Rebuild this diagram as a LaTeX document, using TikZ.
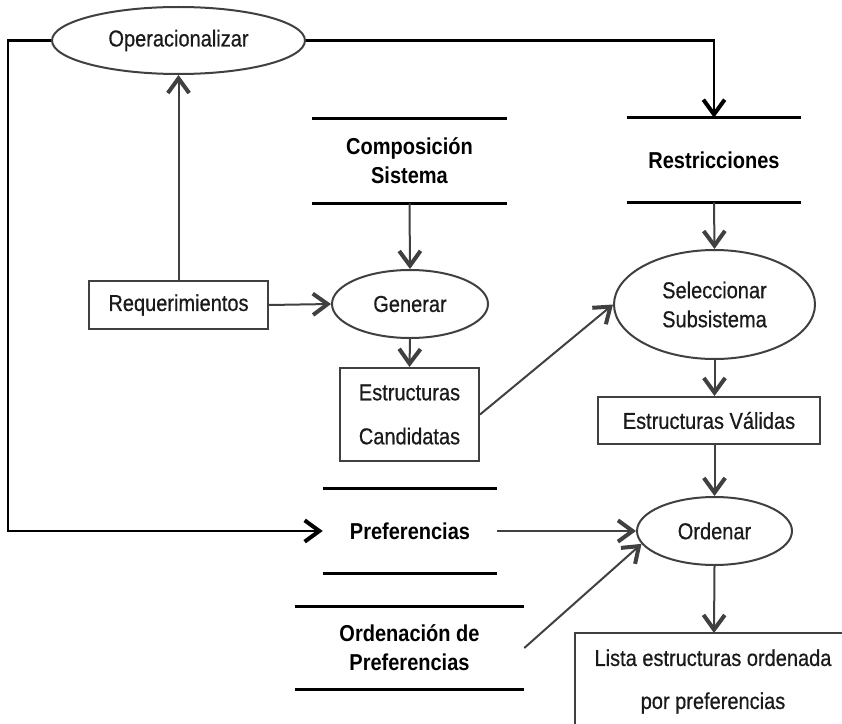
\documentclass[tikz,border=0pt]{standalone}
\usepackage{fontspec}
\setmainfont{Liberation Sans}[FakeStretch=0.87,UprightFeatures={FakeBold=0.6}]
\usetikzlibrary{arrows.meta,shapes.geometric}
\definecolor{lgray}{HTML}{404040}
\definecolor{tgray}{HTML}{1a1a1a}
\tikzset{
  tip/.style={-{Straight Barb[length=11pt,width=16pt,line width=3pt]}},
  gline/.style={draw=lgray,line width=1.5pt},
  bline/.style={draw=black,line width=2pt},
  proc/.style={ellipse,draw=lgray,line width=1.5pt,inner sep=0pt,text=tgray,align=center},
  ent/.style={rectangle,draw=lgray,line width=1.5pt,inner sep=0pt,text=tgray,align=center},
  store/.style={rectangle,draw=none,inner sep=0pt,align=center,font=\bfseries\fontsize{17.25}{21.75}\selectfont}
}
\begin{document}
\begin{tikzpicture}[x=0.75pt,y=-0.75pt,font=\fontsize{17.25}{21.75}\selectfont]
\useasboundingbox (0,0) rectangle (842,724);
% nodes
\node[proc,minimum width=253*0.75pt,minimum height=67*0.75pt] (oper) at (178.5,40.5) {Operacionalizar};
\node[store,minimum width=195*0.75pt,minimum height=84*0.75pt] (comp) at (409.5,161) {Composición\\Sistema};
\node[store,minimum width=174*0.75pt,minimum height=84*0.75pt] (restr) at (714,160) {Restricciones};
\node[ent,minimum width=179*0.75pt,minimum height=48*0.75pt] (req) at (178.5,305) {Requerimientos};
\node[proc,minimum width=156*0.75pt,minimum height=68*0.75pt] (gen) at (410,304) {Generar};
\node[proc,minimum width=201*0.75pt,minimum height=109*0.75pt] (selec) at (714.5,304.5) {Seleccionar\\Subsistema};
\node[ent,minimum width=139*0.75pt,minimum height=93*0.75pt,font=\fontsize{17.25}{33}\selectfont] (cand) at (409.5,414.5) {Estructuras\\Candidatas};
\node[ent,minimum width=222*0.75pt,minimum height=47*0.75pt] (valid) at (709,420.5) {Estructuras Válidas};
\node[store,minimum width=174*0.75pt,minimum height=84*0.75pt] (pref) at (410,531) {Preferencias};
\node[proc,minimum width=155*0.75pt,minimum height=68*0.75pt] (ordenar) at (714.5,531) {Ordenar};
\node[store,minimum width=229*0.75pt,minimum height=83*0.75pt] (ordp) at (409.5,648) {Ordenación de\\Preferencias};
\node[inner sep=0pt,align=center,text=tgray,font=\fontsize{17.25}{32.25}\selectfont] (lista) at (713,681.5) {Lista estructuras ordenada\\por preferencias};
% store lines
\foreach \s in {comp,restr,pref,ordp}{
  \draw[bline] (\s.north west) -- (\s.north east);
  \draw[bline] (\s.south west) -- (\s.south east);
}
% lista box (cut by the page edge)
\coordinate (listatop) at (714,633);
\draw[gline] (575,726) |- (844,633);
% black connectors
\coordinate (lc) at (8,531);
\draw[bline,tip] (oper.west) -| (lc) -- (pref.west);
\draw[bline,tip] (oper.east) -| (restr.north);
% gray connectors
\draw[gline,tip] (req.north) -- (oper.south);
\draw[gline,tip] (req.east) -- (gen.west);
\draw[gline,tip] (comp.south) -- (gen.north);
\draw[gline,tip] (gen.south) -- (cand.north);
\draw[gline,tip] (cand.east) -- (selec.west);
\draw[gline,tip] (restr.south) -- (selec.north);
\draw[gline,tip] (selec.south) -- (selec.south |- valid.north);
\draw[gline,tip] (ordenar.north |- valid.south) -- (ordenar.north);
\draw[gline,tip] (pref.east) -- (ordenar.west);
\draw[gline,tip] (ordp.east) -- (ordenar.190);
\draw[gline,tip] (ordenar.south) -- (listatop);
\end{tikzpicture}
\end{document}
